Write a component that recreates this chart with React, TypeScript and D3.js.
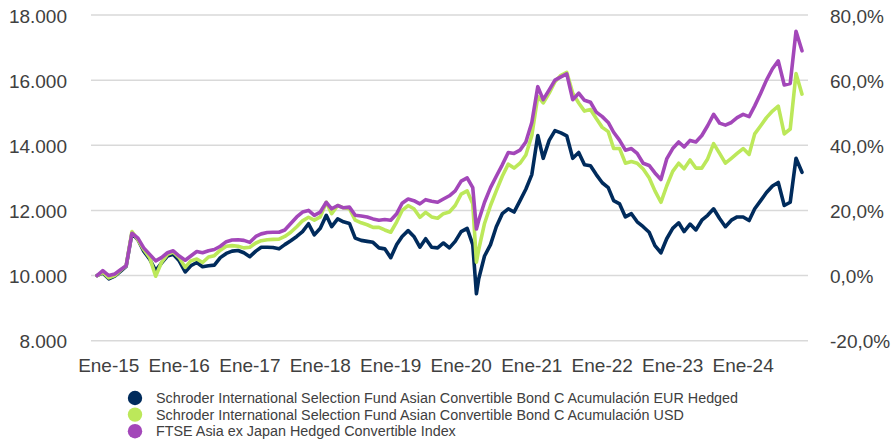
import React from 'react';
import * as d3 from 'd3';

// monthly closes, plus the March 2020 low
const dates = [
  '2014-11', '2014-12',
  '2015-01', '2015-02', '2015-03', '2015-04', '2015-05', '2015-06', '2015-07', '2015-08', '2015-09', '2015-10', '2015-11', '2015-12',
  '2016-01', '2016-02', '2016-03', '2016-04', '2016-05', '2016-06', '2016-07', '2016-08', '2016-09', '2016-10', '2016-11', '2016-12',
  '2017-01', '2017-02', '2017-03', '2017-04', '2017-05', '2017-06', '2017-07', '2017-08', '2017-09', '2017-10', '2017-11', '2017-12',
  '2018-01', '2018-02', '2018-03', '2018-04', '2018-05', '2018-06', '2018-07', '2018-08', '2018-09', '2018-10', '2018-11', '2018-12',
  '2019-01', '2019-02', '2019-03', '2019-04', '2019-05', '2019-06', '2019-07', '2019-08', '2019-09', '2019-10', '2019-11', '2019-12',
  '2020-01', '2020-02', '2020-03', '2020-03-20', '2020-04', '2020-05', '2020-06', '2020-07', '2020-08', '2020-09', '2020-10', '2020-11', '2020-12',
  '2021-01', '2021-02', '2021-03', '2021-04', '2021-05', '2021-06', '2021-07', '2021-08', '2021-09', '2021-10', '2021-11', '2021-12',
  '2022-01', '2022-02', '2022-03', '2022-04', '2022-05', '2022-06', '2022-07', '2022-08', '2022-09', '2022-10', '2022-11', '2022-12',
  '2023-01', '2023-02', '2023-03', '2023-04', '2023-05', '2023-06', '2023-07', '2023-08', '2023-09', '2023-10', '2023-11', '2023-12',
  '2024-01', '2024-02', '2024-03', '2024-04', '2024-05', '2024-06', '2024-07', '2024-08', '2024-09', '2024-10', '2024-11',
];

const eurHedged = [
  10000, 10080,
  9900, 9980, 10120, 10280, 11300, 11100, 10750, 10500, 10150, 10380, 10600, 10650,
  10450, 10110, 10300, 10400, 10270, 10300, 10320, 10550, 10680, 10750, 10770, 10700,
  10580, 10750, 10870, 10870, 10860, 10820, 10950, 11070, 11200, 11350, 11590, 11250,
  11450, 11850, 11500, 11740, 11650, 11600, 11150, 11080, 11050, 11020, 10850, 10820,
  10550, 10950, 11200, 11380, 11200, 10870, 11130, 10870, 10850, 11000, 10850, 11050,
  11350, 11450, 10950, 9440, 9900, 10600, 10950, 11500, 11900, 12050, 11950, 12300, 12650,
  13100, 14300, 13600, 14150, 14450, 14380, 14290, 13600, 13780, 13400, 13370, 13100,
  12850, 12700, 12300, 12200, 11800, 11900, 11650, 11500, 11330, 10920, 10700, 11130,
  11450, 11620, 11350, 11580, 11400, 11700, 11850, 12050, 11750, 11500, 11700, 11800,
  11800, 11690, 12050, 12300, 12550, 12750, 12860, 12150, 12250, 13600, 13170,
];

const usdClass = [
  10000, 10100,
  9930, 10000, 10150, 10300, 11350, 11100, 10800, 10550, 9980, 10400, 10650, 10720,
  10550, 10250, 10450, 10510, 10400, 10570, 10610, 10780, 10900, 10920, 10900, 10850,
  10870, 11000, 11070, 11100, 11110, 11120, 11200, 11330, 11500, 11680, 11790, 11700,
  11800, 12250, 11900, 12150, 12080, 12050, 11700, 11620, 11560, 11480, 11480, 11400,
  11330, 11650, 12000, 12150, 12050, 11790, 11940, 11800, 11760, 11900, 11950, 12150,
  12500, 12600, 12200, 10410, 10800, 11600, 12150, 12600, 13050, 13420, 13300, 13450, 13700,
  14300, 15500, 15300, 15600, 15950, 16150, 16240, 15600, 15300, 15050, 15100, 14820,
  14550, 14420, 13900, 13900, 13450, 13500, 13450, 13270, 13000, 12600, 12250, 12750,
  13200, 13450, 13280, 13550, 13300, 13300, 13580, 14050, 13750, 13450, 13600, 13750,
  13900, 13720, 14350, 14600, 14850, 15050, 15200, 14350, 14500, 16200, 15570,
];

const benchmark = [
  10000, 10150,
  10000, 10050, 10170, 10300, 11300, 11150, 10850, 10650, 10450, 10550, 10700, 10760,
  10600, 10470, 10600, 10740, 10700, 10760, 10800, 10900, 11040, 11090, 11100, 11080,
  11020, 11200, 11280, 11320, 11330, 11330, 11400, 11600, 11800, 11950, 12000, 11850,
  11950, 12250, 12050, 12150, 12080, 12100, 11850, 11830, 11800, 11740, 11700, 11720,
  11700, 11900, 12220, 12350, 12300, 12200, 12330, 12280, 12250, 12350, 12450, 12600,
  12900, 13000, 12700, 11430, 11700, 12250, 12700, 13050, 13400, 13780, 13750, 13850, 14100,
  14700, 15800, 15400, 15700, 16000, 16100, 16190, 15400, 15600, 15380, 15320, 15020,
  14880, 14700, 14400, 14150, 13850, 13900, 13750, 13450, 13380, 13150, 12950, 13580,
  13900, 14100, 13950, 14150, 14100, 14300, 14600, 14950, 14680, 14620, 14700, 14850,
  14950, 14880, 15210, 15600, 16000, 16350, 16590, 15850, 15900, 17500, 16900,
];

const seriesNames = [
  'Schroder International Selection Fund Asian Convertible Bond C Acumulación EUR Hedged',
  'Schroder International Selection Fund Asian Convertible Bond C Acumulación USD',
  'FTSE Asia ex Japan Hedged Convertible Index',
];
const colors = ['#002b5c', '#bce85a', '#a347b9'];

const leftTicks = [8000, 10000, 12000, 14000, 16000, 18000];
const rightTicks = [-20, 0, 20, 40, 60, 80];
const yearTicks = ['2015-01', '2016-01', '2017-01', '2018-01', '2019-01', '2020-01', '2021-01', '2022-01', '2023-01', '2024-01'];

const W = 893, H = 444;
const FONT = '"Liberation Sans", Arial, sans-serif';
const TEXT = '#404040';

const parseDate = (s: string) => (s.length > 7 ? d3.timeParse('%Y-%m-%d')(s) : d3.timeParse('%Y-%m')(s)) as Date;
const esLocale = d3.formatLocale({ decimal: ',', thousands: '.', grouping: [3], currency: ['', '€'], minus: '-' });
const fmtLeft = esLocale.format(',.0f');
const fmtRight = esLocale.format('.1f');

export default function App() {
  const parsed = dates.map(parseDate);
  const x = d3.scaleTime()
    .domain([parsed[0], parsed[parsed.length - 1]])
    .range([97, 802]);
  const yLeft = d3.scaleLinear().domain([8000, 18000]).range([340.7, 15]);
  const yRight = d3.scaleLinear().domain([-20, 80]).range([340.7, 15]);

  const line = d3.line<number>()
    .x((_, i) => x(parsed[i]))
    .y(d => yLeft(d));

  const allSeries = [eurHedged, usdClass, benchmark];

  return (
    <svg width={W} height={H} style={{ position: 'absolute', left: 0, top: 0, background: '#fff' }} fontFamily={FONT}>
      {leftTicks.map(t => (
        <line key={t} x1={91} x2={808} y1={yLeft(t)} y2={yLeft(t)} stroke="#d9d9d9" strokeWidth={1.5} />
      ))}
      {leftTicks.map(t => (
        <text key={t} x={67} y={yLeft(t) + 1} textAnchor="end" dominantBaseline="central" fontSize={19} fill={TEXT}>
          {fmtLeft(t)}
        </text>
      ))}
      {rightTicks.map(t => (
        <text key={t} x={830} y={yRight(t) + 1} textAnchor="start" dominantBaseline="central" fontSize={19} fill={TEXT}>
          {fmtRight(t).replace('\u2212', '-') + '%'}
        </text>
      ))}
      {yearTicks.map(t => (
        <text key={t} x={x(parseDate(t))} y={371.5} textAnchor="middle" fontSize={19} fill={TEXT}>
          {'Ene-' + t.slice(2, 4)}
        </text>
      ))}
      {allSeries.map((s, i) => (
        <path key={i} d={line(s) || ''} fill="none" stroke={colors[i]} strokeWidth={3.6} strokeLinejoin="round" strokeLinecap="round" />
      ))}
      {seriesNames.map((name, i) => (
        <g key={name} transform={`translate(0, ${398 + i * 16.6})`}>
          <circle cx={135} cy={0} r={7.2} fill={colors[i]} />
          <text x={156} y={0} dominantBaseline="central" fontSize={14.35} fill={TEXT}>{name}</text>
        </g>
      ))}
    </svg>
  );
}
